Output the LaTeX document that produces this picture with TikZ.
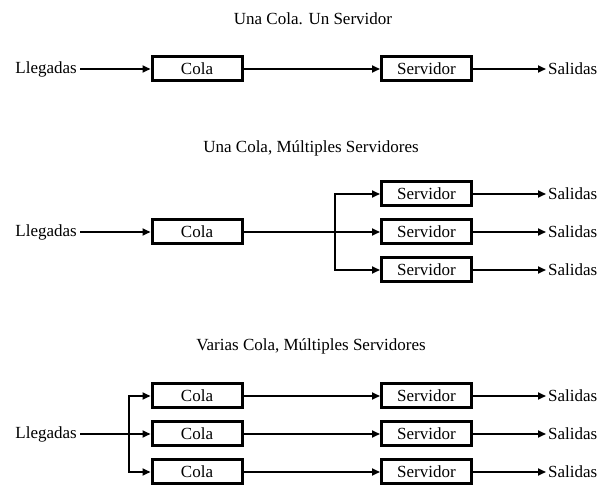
\documentclass[tikz,border=0pt]{standalone}
\usepackage{fontspec}
\setmainfont{Liberation Serif}
\usetikzlibrary{arrows.meta}
\begin{document}
\begin{tikzpicture}[x=1pt,y=-1pt,
  font=\fontsize{17}{20}\selectfont,
  box/.style={draw=black,line width=3pt,minimum width=90pt,minimum height=24pt,inner sep=0pt},
  arr/.style={line width=1.7pt,-{Triangle[length=8pt,width=7pt]}},
  lbl/.style={inner sep=0pt}]
\useasboundingbox (0,0) rectangle (598,486);
% Section 1
\node[lbl] (t1) at (313,19) {Una Cola. Un Servidor};
\node[lbl,anchor=east] (l1) at (77,69) {Llegadas};
\node[box] (c1) at (197,69) {Cola};
\node[box] (s1) at (426.5,69) {Servidor};
\node[lbl,anchor=west] (o1) at (548,69) {Salidas};
\draw[arr] (l1.east) ++(3,0) -- (c1.west);
\draw[arr] (c1.east) -- (s1.west);
\draw[arr] (s1.east) -- ([xshift=-2pt]o1.west);
% Section 2
\node[lbl] (t2) at (311,148) {Una Cola, Múltiples Servidores};
\node[lbl,anchor=east] (l2) at (77,232) {Llegadas};
\node[box] (c2) at (197,232) {Cola};
\node[box] (s21) at (426.5,194) {Servidor};
\node[box] (s22) at (426.5,232) {Servidor};
\node[box] (s23) at (426.5,270) {Servidor};
\node[lbl,anchor=west] (o21) at (548,194) {Salidas};
\node[lbl,anchor=west] (o22) at (548,232) {Salidas};
\node[lbl,anchor=west] (o23) at (548,270) {Salidas};
\coordinate (b2) at (335,232);
\draw[arr] (l2.east) ++(3,0) -- (c2.west);
\draw[arr] (c2.east) -- (s22.west);
\draw[arr] (b2) |- (s21.west);
\draw[arr] (b2) |- (s23.west);
\draw[arr] (s21.east) -- ([xshift=-2pt]o21.west);
\draw[arr] (s22.east) -- ([xshift=-2pt]o22.west);
\draw[arr] (s23.east) -- ([xshift=-2pt]o23.west);
% Section 3
\node[lbl] (t3) at (311,346) {Varias Cola, Múltiples Servidores};
\node[lbl,anchor=east] (l3) at (77,434) {Llegadas};
\node[box] (c31) at (197,396) {Cola};
\node[box] (c32) at (197,434) {Cola};
\node[box] (c33) at (197,472) {Cola};
\node[box] (s31) at (426.5,396) {Servidor};
\node[box] (s32) at (426.5,434) {Servidor};
\node[box] (s33) at (426.5,472) {Servidor};
\node[lbl,anchor=west] (o31) at (548,396) {Salidas};
\node[lbl,anchor=west] (o32) at (548,434) {Salidas};
\node[lbl,anchor=west] (o33) at (548,472) {Salidas};
\coordinate (b3) at (129,434);
\draw[arr] (l3.east) ++(3,0) -- (c32.west);
\draw[arr] (b3) |- (c31.west);
\draw[arr] (b3) |- (c33.west);
\draw[arr] (c31.east) -- (s31.west);
\draw[arr] (c32.east) -- (s32.west);
\draw[arr] (c33.east) -- (s33.west);
\draw[arr] (s31.east) -- ([xshift=-2pt]o31.west);
\draw[arr] (s32.east) -- ([xshift=-2pt]o32.west);
\draw[arr] (s33.east) -- ([xshift=-2pt]o33.west);
\end{tikzpicture}
\end{document}
